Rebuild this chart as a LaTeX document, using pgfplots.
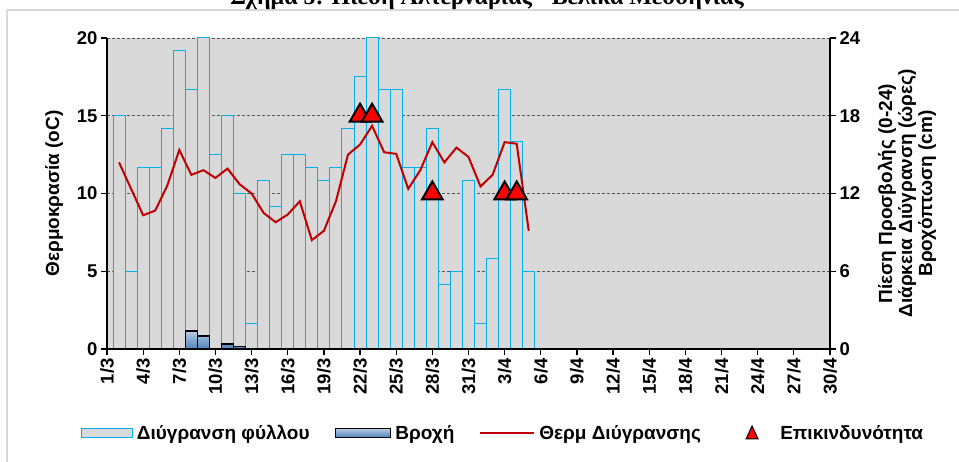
\documentclass[border=0pt]{standalone}
\usepackage{pgfplots}
\pgfplotsset{compat=1.18}
\usepackage{pgfplotstable}
\usepackage{fontspec}
\setmainfont{Liberation Sans}
\newfontfamily\titlefont{Liberation Serif}
\definecolor{bg}{HTML}{D9D9D9}
\definecolor{barcyan}{HTML}{00B0F0}
\definecolor{linered}{HTML}{C00000}
\definecolor{rainblue}{HTML}{4F81BD}
\definecolor{rainlight}{HTML}{B8CCE4}
\definecolor{gridc}{HTML}{595959}
\definecolor{framec}{HTML}{D9D9D9}

\pgfplotstableread{
x wet temp
1 18 12.0
2 6 10.3
3 14 8.6
4 14 8.9
5 17 10.5
6 23 12.8
7 20 11.2
8 24 11.5
9 15 11.0
10 18 11.6
11 12 10.6
12 2 10.0
13 13 8.75
14 11 8.15
15 15 8.65
16 15 9.5
17 14 7.0
18 13 7.6
19 14 9.5
20 17 12.5
21 21 13.15
22 24 14.35
23 20 12.65
24 20 12.55
25 14 10.3
26 14 11.5
27 17 13.3
28 5 12.0
29 6 12.95
30 13 12.35
31 2 10.45
32 7 11.2
33 20 13.3
34 16 13.2
35 6 7.6
}\maindata

\pgfplotstableread{
x rain
6 0.05
7 1.4
8 1.0
10 0.4
11 0.2
22 0.05
25 0.05
}\raindata

\pgfplotstableread{
x risk
21 18
22 18
27 12
33 12
34 12
}\riskdata

\pgfplotsset{
  common/.style={
    scale only axis, width=723pt, height=311pt,
    at={(107pt,113pt)}, anchor=south west,
    xmin=0, xmax=60,
    xtick={0,3,...,60},
    tick align=outside,
    major tick length=6pt,
    axis line style={black, line width=1.2pt, -},
    major tick style={black, line width=1.2pt},
    tick label style={font=\fontsize{18.5}{20}\selectfont\bfseries},
    label style={font=\fontsize{19}{20}\selectfont\bfseries},
    /pgf/number format/assume math mode=true,
  }
}

\begin{document}
\begin{tikzpicture}[x=1pt,y=1pt]
\draw[framec, line width=1.5pt] (7,-10) rectangle (980,452);
\node[font=\titlefont\fontsize{24}{28}\selectfont\bfseries, anchor=base] at (487,457.5) {Σχήμα 5: Πίεση Αλτερναρίας - Βελίκα Μεσσηνίας};

\begin{axis}[common,
  ymin=0, ymax=24, ytick={0,6,...,24},
  axis x line*=bottom, axis y line*=right,
  axis background/.style={fill=bg},
  ymajorgrids, grid style={gridc, densely dashed, line width=0.8pt},
  xticklabels={1/3,4/3,7/3,10/3,13/3,16/3,19/3,22/3,25/3,28/3,31/3,3/4,6/4,9/4,12/4,15/4,18/4,21/4,24/4,27/4,30/4},
  xticklabel style={rotate=90, anchor=east},
  ylabel={Πίεση Προσβολής (0-24)\\Διάρκεια Διύγρανση (ώρες)\\Βροχόπτωση (cm)},
  ylabel style={align=center},
  ylabel shift=11pt,
]
\addplot[ybar, bar width=1, bar shift=0pt, draw=barcyan, fill=bg, line width=1pt] table[x=x,y=wet]{\maindata};
\addplot[ybar, bar width=1, bar shift=0pt, draw=black, line width=1.5pt, top color=rainlight, bottom color=rainblue] table[x=x,y=rain]{\raindata};
\end{axis}

\begin{axis}[common,
  ymin=0, ymax=20, ytick={0,5,...,20},
  axis x line*=bottom, axis y line*=left,
  xticklabels={},
  ylabel={Θερμοκρασία (oC)},
  ylabel shift=7pt,
]
\addplot[linered, line width=2pt, no markers] table[x=x,y=temp]{\maindata};
\end{axis}

\begin{axis}[common, ymin=0, ymax=24, hide axis,
  legend columns=4,
  legend style={draw=none, fill=none, inner sep=0pt, outer sep=0pt,
    at={(-0.036,-0.27)}, anchor=west,
    font=\fontsize{19}{20}\selectfont\bfseries,
    nodes={inner sep=0pt, anchor=west},
    /tikz/every odd column/.append style={column sep=4pt},
    /tikz/every even column/.append style={column sep=25pt}},
]
\addlegendimage{legend image code/.code={\draw[barcyan, fill=bg, line width=1pt] (0pt,-4.5pt) rectangle (51pt,4.5pt);}}
\addlegendentry{Διύγρανση φύλλου}
\addlegendimage{legend image code/.code={\draw[black, line width=1.8pt, top color=rainlight, bottom color=rainblue] (0pt,-4.5pt) rectangle (55pt,4.5pt);}}
\addlegendentry{Βροχή}
\addlegendimage{legend image code/.code={\draw[linered, line width=2pt] (0pt,0pt) -- (54pt,0pt);}}
\addlegendentry{Θερμ Διύγρανσης}
\addplot[only marks, mark=triangle*, mark size=12pt, mark options={fill=red, draw=black, line width=2pt},
  legend image code/.code={\path (-20pt,0pt) (30pt,0pt); \draw[fill=red, draw=black, line width=1pt] (0pt,-6pt) -- (6pt,7pt) -- (12pt,-6pt) -- cycle;}]
  table[x=x,y=risk]{\riskdata};
\addlegendentry{Επικινδυνότητα}
\end{axis}

\pgfresetboundingbox
\useasboundingbox (0,0) rectangle (959,462);
\end{tikzpicture}
\end{document}
